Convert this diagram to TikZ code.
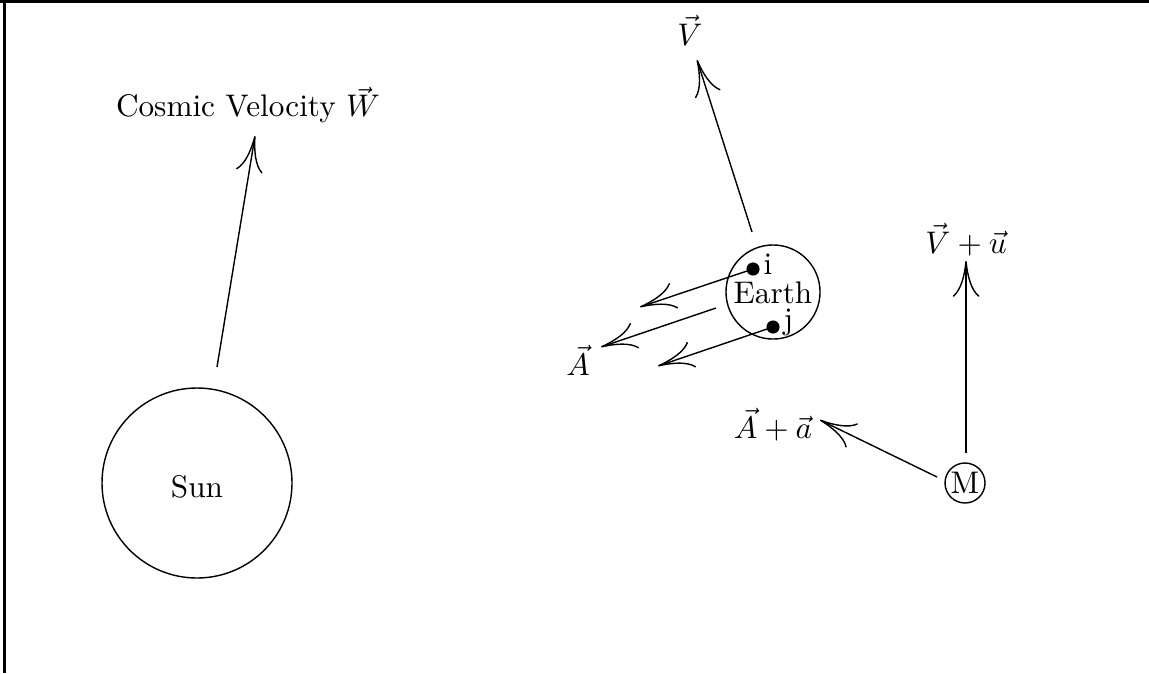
\documentclass[tikz,border=0pt]{standalone}
\usetikzlibrary{arrows.meta}
\begin{document}
\begin{tikzpicture}[x=0.32pt,y=-0.32pt,
  vec/.style={-{To[length=11.5pt,width=8.6pt]}, line width=0.45pt},
  body/.style={draw, circle, line width=0.45pt, inner sep=0pt},
  pt/.style={circle, fill=black, inner sep=0pt, minimum size=4.2pt},
  lbl/.style={inner sep=0pt}]
\useasboundingbox (0,0) rectangle (1149,673);
\draw[line width=1pt] (0,1.6) -- (1149,1.6);
\draw[line width=1pt] (4.5,0) -- (4.5,673);

% Sun
\node[body, minimum size=60.8pt] (sun) at (197,483) {};
\node[lbl] (sunl) at (197,487) {Sun};
\node[lbl] (cosmic) at (248,105) {Cosmic Velocity $\vec{W}$};
\coordinate (w0) at (217,367);
\coordinate (w1) at (255,136);
\draw[vec] (w0) -- (w1);

% Earth
\node[body, minimum size=30.1pt] (earth) at (773,292) {};
\node[lbl] (earthl) at (773,293) {Earth};
\node[pt] (i) at (753,269) {};
\node[lbl, anchor=west] (il) at (763,264) {i};
\node[pt] (j) at (773,327) {};
\node[lbl, anchor=west] (jl) at (783,322) {j};
\coordinate (a1) at (640,307);
\coordinate (m0) at (716,308);
\coordinate (m1) at (601,347);
\coordinate (a2) at (658,366);
\draw[vec] (i.center) -- (a1);
\draw[vec] (m0) -- (m1);
\draw[vec] (j.center) -- (a2);
\node[lbl] (A) at (578,360) {$\vec{A}$};

\coordinate (v0) at (752,232);
\coordinate (v1) at (697,60);
\draw[vec] (v0) -- (v1);
\node[lbl] (V) at (690,30) {$\vec{V}$};

% M
\node[body, minimum size=12.8pt, inner sep=0.3pt] (M) at (965,483) {M};
\coordinate (u0) at (966,453);
\coordinate (u1) at (966,261);
\draw[vec] (u0) -- (u1);
\node[lbl] (Vu) at (966,240) {$\vec{V}+\vec{u}$};
\coordinate (b0) at (937,477);
\coordinate (b1) at (820,420);
\draw[vec] (b0) -- (b1);
\node[lbl] (Aa) at (773,425) {$\vec{A}+\vec{a}$};
\end{tikzpicture}
\end{document}
